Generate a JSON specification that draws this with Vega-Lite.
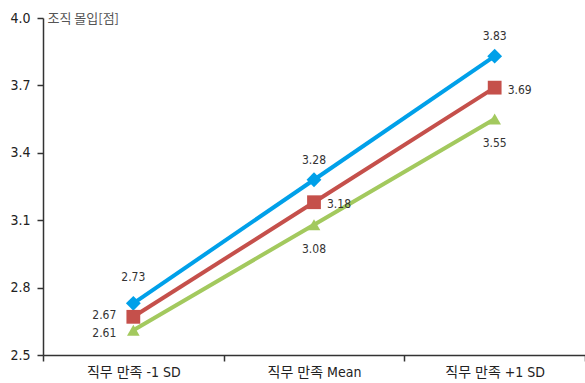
{
  "$schema": "https://vega.github.io/schema/vega-lite/v6.json",
  "width": 542,
  "height": 337,
  "autosize": {"type": "none"},
  "padding": {"left": 43, "top": 18, "right": 0, "bottom": 28},
  "config": {
    "view": {"stroke": null},
    "font": "DejaVu Sans Condensed, Noto Sans CJK KR, sans-serif",
    "text": {"font": "DejaVu Sans Condensed, Noto Sans CJK KR, sans-serif"},
    "axis": {"grid": false, "domainColor": "#333", "tickColor": "#333", "domainWidth": 1.5, "tickWidth": 1.5, "labelColor": "#222", "labelFontSize": 14, "labelFont": "DejaVu Sans Condensed, Noto Sans CJK KR, sans-serif"}
  },
  "data": {
    "values": [
      {"cond": "직무 만족 -1 SD", "series": "A", "value": 2.73},
      {"cond": "직무 만족 Mean", "series": "A", "value": 3.28},
      {"cond": "직무 만족 +1 SD", "series": "A", "value": 3.83},
      {"cond": "직무 만족 -1 SD", "series": "B", "value": 2.67},
      {"cond": "직무 만족 Mean", "series": "B", "value": 3.18},
      {"cond": "직무 만족 +1 SD", "series": "B", "value": 3.69},
      {"cond": "직무 만족 -1 SD", "series": "C", "value": 2.61},
      {"cond": "직무 만족 Mean", "series": "C", "value": 3.08},
      {"cond": "직무 만족 +1 SD", "series": "C", "value": 3.55}
    ]
  },
  "encoding": {
    "x": {"field": "cond", "type": "nominal", "sort": ["직무 만족 -1 SD", "직무 만족 Mean", "직무 만족 +1 SD"],
      "axis": {"title": null, "labelAngle": 0, "tickBand": "extent", "tickSize": 6, "labelPadding": 4},
      "scale": {"paddingInner": 0, "paddingOuter": 0}},
    "y": {"field": "value", "type": "quantitative",
      "scale": {"domain": [2.5, 4.0], "nice": false, "zero": false},
      "axis": {"values": [2.5, 2.8, 3.1, 3.4, 3.7, 4.0], "format": ".1f", "tickSize": 6, "labelPadding": 7,
        "title": "조직 몰입[점]", "titleAngle": 0, "titleAlign": "left", "titleBaseline": "middle", "titleX": 4, "titleY": 0,
        "titleFontSize": 13, "titleFontWeight": "normal", "titleColor": "#555", "titleFont": "Noto Sans CJK KR"}},
    "color": {"field": "series", "type": "nominal", "legend": null,
      "scale": {"domain": ["A", "B", "C"], "range": ["#00A0E9", "#C5504B", "#A3C95E"]}}
  },
  "layer": [
    {"mark": {"type": "line", "strokeWidth": 4}},
    {"mark": {"type": "point", "filled": true, "opacity": 1},
      "encoding": {
        "shape": {"field": "series", "type": "nominal", "legend": null, "scale": {"domain": ["A", "B", "C"], "range": ["diamond", "square", "triangle-up"]}},
        "size": {"field": "series", "type": "nominal", "legend": null, "scale": {"domain": ["A", "B", "C"], "range": [220, 160, 225]}}
      }},
    {"transform": [{"filter": "datum.series === 'A' && datum.cond !== '직무 만족 -1 SD'"}],
      "mark": {"type": "text", "dy": -20, "fontSize": 12},
      "encoding": {"text": {"field": "value", "format": ".2f"}, "color": {"value": "#333"}}},
    {"transform": [{"filter": "datum.series === 'A' && datum.cond === '직무 만족 -1 SD'"}],
      "mark": {"type": "text", "dy": -26, "fontSize": 12},
      "encoding": {"text": {"field": "value", "format": ".2f"}, "color": {"value": "#333"}}},
    {"transform": [{"filter": "datum.series === 'B' && datum.cond !== '직무 만족 -1 SD'"}],
      "mark": {"type": "text", "align": "left", "dx": 13, "dy": 2, "fontSize": 12},
      "encoding": {"text": {"field": "value", "format": ".2f"}, "color": {"value": "#333"}}},
    {"transform": [{"filter": "datum.cond === '직무 만족 -1 SD' && datum.series === 'B'"}],
      "mark": {"type": "text", "align": "right", "dx": -17, "dy": -2, "fontSize": 12},
      "encoding": {"text": {"field": "value", "format": ".2f"}, "color": {"value": "#333"}}},
    {"transform": [{"filter": "datum.cond === '직무 만족 -1 SD' && datum.series === 'C'"}],
      "mark": {"type": "text", "align": "right", "dx": -17, "dy": 3, "fontSize": 12},
      "encoding": {"text": {"field": "value", "format": ".2f"}, "color": {"value": "#333"}}},
    {"transform": [{"filter": "datum.series === 'C' && datum.cond !== '직무 만족 -1 SD'"}],
      "mark": {"type": "text", "dy": 24, "fontSize": 12},
      "encoding": {"text": {"field": "value", "format": ".2f"}, "color": {"value": "#333"}}}
  ]
}
